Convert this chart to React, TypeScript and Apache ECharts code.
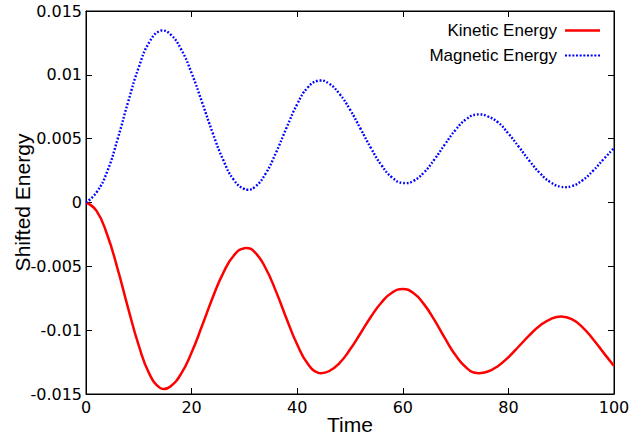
import React, { useEffect, useRef } from "react";
import * as echarts from "echarts";

const kineticTime = [
  0, 2, 4, 6, 8, 10, 12, 14, 14.7, 16, 18, 20, 22, 24, 26, 28, 30, 30.3, 32, 34,
  36, 38, 40, 42, 44, 44.5, 46, 48, 50, 52, 54, 56, 58, 60, 62, 64, 66, 68, 70, 72,
  74, 74.4, 76, 78, 80, 82, 84, 86, 88, 90, 90.1, 92, 94, 96, 98, 100,
];

const kineticEnergy = [
  0, -0.00066, -0.00251, -0.00522, -0.00831, -0.01121, -0.01342, -0.01452,
  -0.0146, -0.01441, -0.01342, -0.01175, -0.00964, -0.00744, -0.00551, -0.00415,
  -0.00358, -0.00357, -0.00391, -0.00513, -0.00698, -0.00912, -0.01113, -0.01264,
  -0.01334, -0.01337, -0.01322, -0.01258, -0.01152, -0.01024, -0.00893, -0.00781,
  -0.00705, -0.00678, -0.00709, -0.00796, -0.00922, -0.01065, -0.01197, -0.01293,
  -0.01336, -0.01337, -0.01326, -0.01282, -0.01212, -0.01126, -0.01039, -0.00964,
  -0.00913, -0.00893, -0.00893, -0.00914, -0.00976, -0.01069, -0.01176, -0.0128,
];

const magneticTime = [
  0, 2, 4, 6, 8, 10, 12, 14, 14.4, 16, 18, 20, 22, 24, 26, 28, 30, 30.6, 32, 34,
  36, 38, 40, 42, 44, 44.2, 46, 48, 50, 52, 54, 56, 58, 60, 60.4, 62, 64, 66, 68,
  70, 72, 74, 74.4, 76, 78, 80, 82, 84, 86, 88, 90, 90.7, 92, 94, 96, 98, 100,
];

const magneticEnergy = [
  0, 0.0008, 0.00241, 0.00499, 0.00791, 0.0106, 0.01257, 0.01344, 0.01347,
  0.01317, 0.01201, 0.01014, 0.00783, 0.00544, 0.00332, 0.00177, 0.00105, 0.001,
  0.00122, 0.00225, 0.00392, 0.00587, 0.0077, 0.00901, 0.00955, 0.00956, 0.00932,
  0.00851, 0.00728, 0.00577, 0.00424, 0.0029, 0.00195, 0.00153, 0.00152, 0.00169,
  0.00235, 0.00338, 0.00457, 0.00569, 0.00652, 0.00689, 0.0069, 0.00676, 0.00629,
  0.0054, 0.00435, 0.00326, 0.00229, 0.00158, 0.00123, 0.0012, 0.00128, 0.00173,
  0.00247, 0.00338, 0.00426,
];

const xTicks = [0, 20, 40, 60, 80, 100];
const yTickLabels = ["-0.015", "-0.01", "-0.005", "0", "0.005", "0.01", "0.015"];

const seriesNames = ["Kinetic Energy", "Magnetic Energy"];

const solidIcon = "path://M0,0h35v2.5h-35z";
const dottedIcon =
  "path://" +
  [0, 3.6, 7.2, 10.8, 14.4, 18, 21.6, 25.2, 28.8, 32.4]
    .map((x) => `M${x},0h2v2.2h-2z`)
    .join(" ");

export default function App() {
  const ref = useRef<HTMLDivElement>(null);

  useEffect(() => {
    document.body.style.margin = "0";
    if (!ref.current) return;
    const chart = echarts.init(ref.current, null, { renderer: "svg" });

    const tickFont = { fontFamily: "DejaVu Sans", fontSize: 16, color: "#000" };
    const yLabel = (v: number) => {
      const s = String(+v.toFixed(3));
      const found = yTickLabels.find((t) => Number(t) === Number(s));
      return found ?? s;
    };

    const baseX = {
      type: "value" as const,
      min: xTicks[0],
      max: xTicks[xTicks.length - 1],
      interval: 20,
      splitLine: { show: false },
      axisLine: { show: true, onZero: false, lineStyle: { color: "#000", width: 1 } },
      axisTick: { show: true, inside: true, length: 6, lineStyle: { color: "#000", width: 1 } },
    };
    const baseY = {
      type: "value" as const,
      min: -0.015,
      max: 0.015,
      interval: 0.005,
      splitLine: { show: false },
      axisLine: { show: true, onZero: false, lineStyle: { color: "#000", width: 1 } },
      axisTick: { show: true, inside: true, length: 6, lineStyle: { color: "#000", width: 1 } },
    };

    chart.setOption({
      animation: false,
      backgroundColor: "#fff",
      grid: {
        left: 86,
        right: 17,
        top: 11,
        bottom: 44,
        show: true,
        borderColor: "#000",
        borderWidth: 1,
        containLabel: false,
        outerBoundsMode: "none",
      },
      legend: {
        data: [
          { name: seriesNames[0], icon: solidIcon },
          { name: seriesNames[1], icon: dottedIcon },
        ],
        orient: "vertical",
        align: "right",
        right: 31,
        top: 22,
        padding: 0,
        itemGap: 8,
        itemWidth: 35,
        itemHeight: 2.5,
        textStyle: {
          fontFamily: "Liberation Sans",
          fontSize: 17,
          color: "#000",
          padding: [0, 3, 0, 0],
        },
      },
      xAxis: [
        {
          ...baseX,
          position: "bottom",
          name: "Time",
          nameLocation: "middle",
          nameGap: 20,
          nameMoveOverlap: false,
          nameTextStyle: { fontFamily: "Liberation Sans", fontSize: 21, color: "#000" },
          axisLabel: { ...tickFont, margin: 5 },
        },
        {
          ...baseX,
          position: "top",
          axisLabel: { show: false },
        },
      ],
      yAxis: [
        {
          ...baseY,
          position: "left",
          name: "Shifted Energy",
          nameLocation: "middle",
          nameGap: 53,
          nameMoveOverlap: false,
          nameTextStyle: { fontFamily: "Liberation Sans", fontSize: 21, color: "#000" },
          axisLabel: { ...tickFont, margin: 4, formatter: yLabel },
        },
        {
          ...baseY,
          position: "right",
          axisLabel: { show: false },
        },
      ],
      series: [
        {
          name: seriesNames[0],
          type: "line",
          xAxisIndex: 0,
          yAxisIndex: 0,
          data: kineticTime.map((t, i) => [t, kineticEnergy[i]]),
          smooth: 0.5,
          showSymbol: false,
          symbol: "none",
          color: "#ff0000",
          lineStyle: { color: "#ff0000", width: 2.5, type: "solid" },
        },
        {
          name: seriesNames[1],
          type: "line",
          xAxisIndex: 0,
          yAxisIndex: 0,
          data: magneticTime.map((t, i) => [t, magneticEnergy[i]]),
          smooth: 0.5,
          showSymbol: false,
          symbol: "none",
          color: "#0000ff",
          lineStyle: { color: "#0000ff", width: 2.4, type: [1.8, 1.8] },
        },
      ],
    });

    return () => chart.dispose();
  }, []);

  return (
    <div
      ref={ref}
      style={{ position: "fixed", left: 0, top: 0, width: 631, height: 438 }}
    />
  );
}
